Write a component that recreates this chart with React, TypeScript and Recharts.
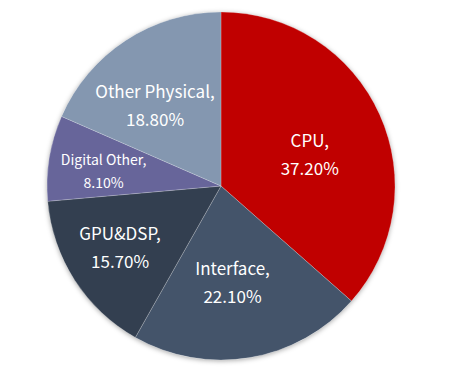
import React from "react";
import { PieChart, Pie, Cell } from "recharts";

const categories = ["CPU", "Interface", "GPU&DSP", "Digital Other", "Other Physical"];
const shares = [37.2, 22.1, 15.7, 8.1, 18.8];
const percentLabels = ["37.20%", "22.10%", "15.70%", "8.10%", "18.80%"];

const COLORS = ["#C00000", "#44546A", "#333F50", "#67659A", "#8497B0"];
// label placement: [radius fraction, angle nudge (deg, clockwise), font size, line gap]
const LABEL_LAYOUT: [number, number, number, number][] = [
  [0.54, 5.1, 17, 28],
  [0.563, 2.8, 17, 28],
  [0.68, 1.3, 17, 28],
  [0.68, -2.3, 14, 23],
  [0.596, -6.3, 17, 28],
];

const data = categories.map((name, i) => ({ name, value: shares[i], pct: percentLabels[i] }));

const W = 450;
const H = 367;
const CX = 221;
const CY = 186;
const R = 174;

const RAD = Math.PI / 180;

const renderLabel = (props: any) => {
  const { cx, cy, midAngle, outerRadius, index } = props;
  const [frac, nudge, fs, gap] = LABEL_LAYOUT[index];
  const theta = (90 - midAngle + nudge) * RAD; // clockwise from top
  const r = outerRadius * frac;
  const x = cx + r * Math.sin(theta);
  const y = cy - r * Math.cos(theta);
  const cap = fs * 0.7;
  const b1 = y + cap / 2 - gap / 2;
  return (
    <text
      x={x}
      y={b1}
      fill="#FFFFFF"
      textAnchor="middle"
      fontSize={fs}
      fontFamily="'Noto Sans CJK TC', 'Noto Sans', sans-serif"
    >
      <tspan x={x} y={b1}>{data[index].name},</tspan>
      <tspan x={x} y={b1 + gap}>{data[index].pct}</tspan>
    </text>
  );
};

export default function App() {
  return (
    <div style={{ position: "absolute", left: 0, top: 0, width: W, height: H, background: "#fff" }}>
      <div
        style={{
          position: "absolute",
          left: CX - R,
          top: CY - R,
          width: R * 2,
          height: R * 2,
          borderRadius: "50%",
          boxShadow: "0 1px 5px rgba(0,0,0,0.35)",
        }}
      />
      <div style={{ position: "absolute", left: 0, top: 0 }}>
        <PieChart width={W} height={H} margin={{ top: 0, right: 0, bottom: 0, left: 0 }}>
          <Pie
            data={data}
            dataKey="value"
            nameKey="name"
            cx={CX}
            cy={CY}
            outerRadius={R}
            startAngle={90}
            endAngle={-270}
            stroke="rgba(255,255,255,0.25)"
            strokeWidth={0.8}
            label={renderLabel}
            labelLine={false}
            isAnimationActive={false}
          >
            {data.map((d, i) => (
              <Cell key={d.name} fill={COLORS[i]} />
            ))}
          </Pie>
        </PieChart>
      </div>
    </div>
  );
}
